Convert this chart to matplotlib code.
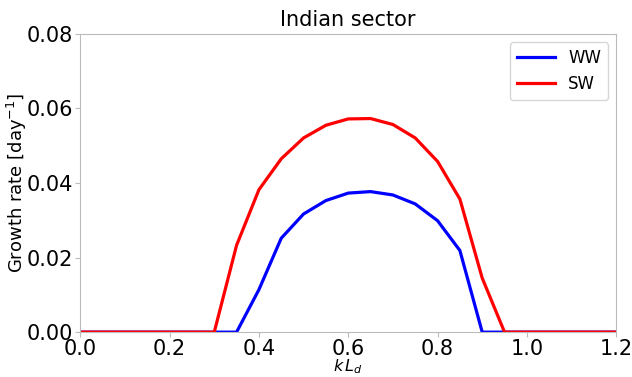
import numpy as np
import matplotlib
matplotlib.use('Agg')
import matplotlib.pyplot as plt

# wavenumber k*Ld and growth rates (1/day)
kLd = [0.0, 0.05, 0.1, 0.15, 0.2, 0.25, 0.3, 0.35, 0.4, 0.45, 0.5, 0.55, 0.6,
       0.65, 0.7, 0.75, 0.8, 0.85, 0.9, 0.95, 1.0, 1.05, 1.1, 1.15, 1.2]
ww = [0, 0, 0, 0, 0, 0, 0, 0, 0.0114, 0.0252, 0.0317, 0.0353, 0.0373,
      0.0377, 0.0368, 0.0344, 0.0299, 0.0219, 0, 0, 0, 0, 0, 0, 0]
sw = [0, 0, 0, 0, 0, 0, 0, 0.0233, 0.0382, 0.0465, 0.0521, 0.0555, 0.0572,
      0.0573, 0.0557, 0.0521, 0.0458, 0.0357, 0.0145, 0, 0, 0, 0, 0, 0]

fig = plt.figure(figsize=(6.32, 3.77), dpi=100)
ax = fig.add_axes([0.127, 0.119, 0.848, 0.791])

ax.plot(kLd, ww, color='blue', lw=2.3, label='WW')
ax.plot(kLd, sw, color='red', lw=2.3, label='SW')

ax.set_xlim(0, 1.2)
ax.set_ylim(0, 0.08)
ax.set_xticks(np.arange(0, 1.21, 0.2))
ax.set_yticks(np.arange(0, 0.081, 0.02))
ax.tick_params(labelsize=15, color='#bbbbbb', pad=2)
ax.tick_params(axis='x', pad=1.5)
for s in ax.spines.values():
    s.set_color('#bbbbbb')

ax.set_title('Indian sector', fontsize=15)
ax.set_xlabel(r'$k\,L_d$', fontsize=11.5)
ax.set_ylabel(r'Growth rate [day$^{-1}$]', fontsize=13)
ax.xaxis.set_label_coords(0.5, -0.086)
ax.yaxis.set_label_coords(-0.095, 0.5)
ax.legend(fontsize=12, loc='upper right', handlelength=2.3)

fig.savefig('out.png', dpi=100)
